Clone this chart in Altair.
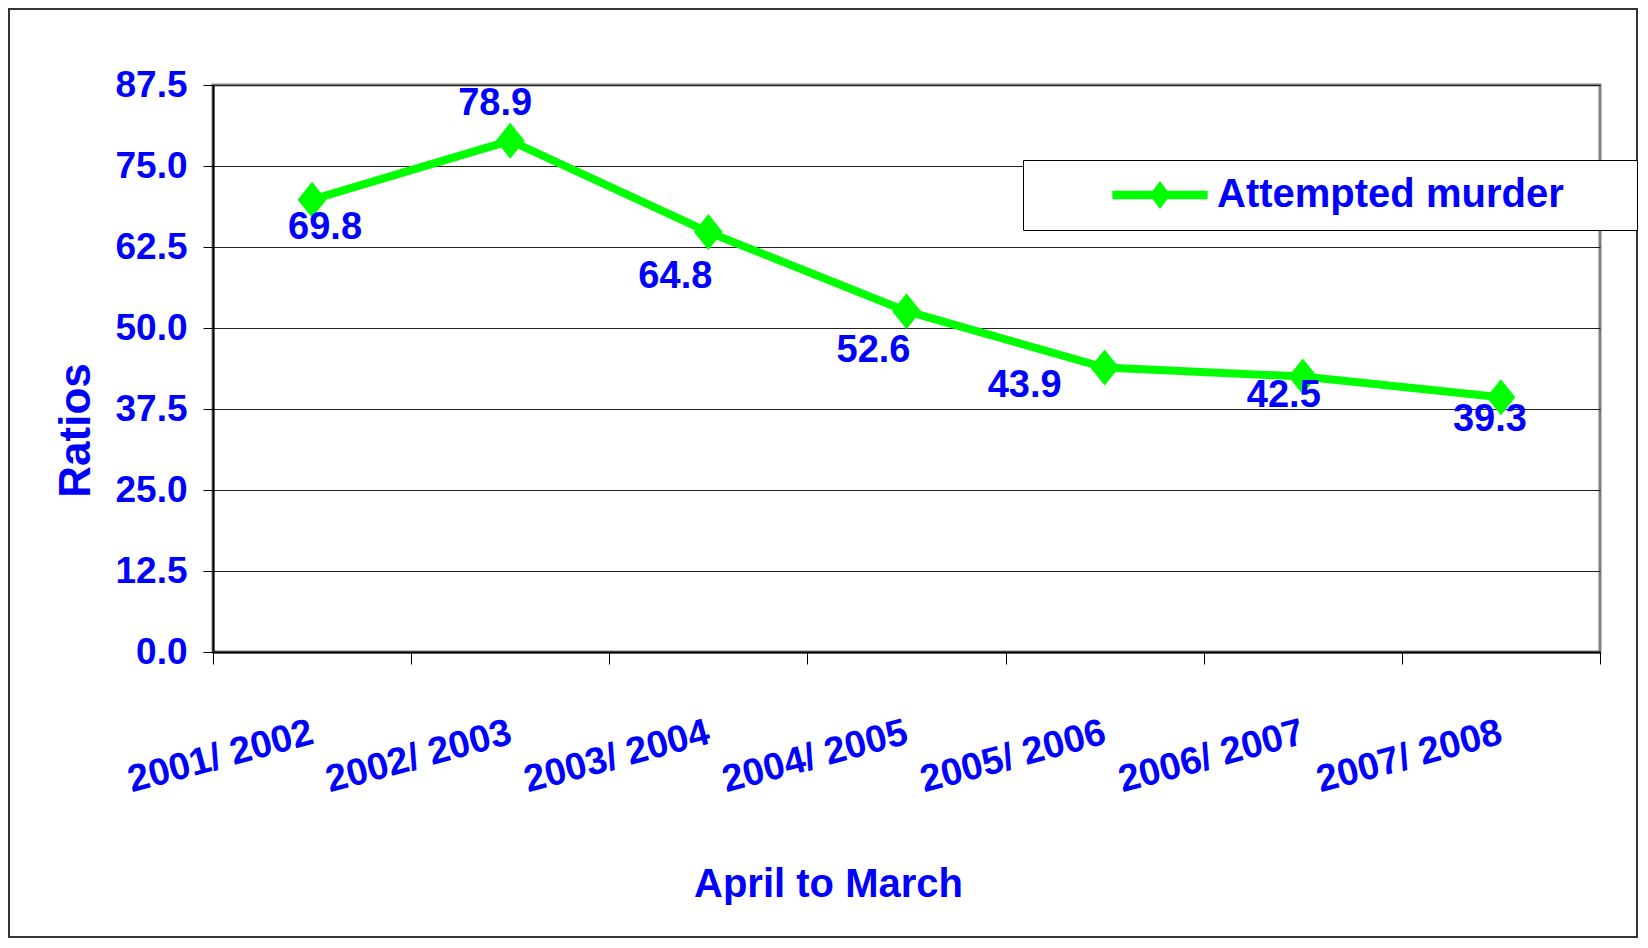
import altair as alt
import pandas as pd

years = ["2001/ 2002", "2002/ 2003", "2003/ 2004", "2004/ 2005",
         "2005/ 2006", "2006/ 2007", "2007/ 2008"]
ratios = [69.8, 78.9, 64.8, 52.6, 43.9, 42.5, 39.3]
series_name = "Attempted murder"
y_ticks = [0, 12.5, 25, 37.5, 50, 62.5, 75, 87.5]

# label placement offsets (pixels), as in the original
label_dx = [13, -15, -33, -33, -80, -19, -11]
label_dy = [28, -37, 45, 40, 18, 19, 23]

df = pd.DataFrame({"year": years, "ratio": ratios,
                   "series": [series_name] * len(years)})

FONT = "Liberation Sans, Arial, sans-serif"
BLUE = "#0000FF"
GREEN = "#00FF00"

W, H = 1387, 567

x_enc = alt.X(
    "year:N", sort=years,
    scale=alt.Scale(type="band", paddingInner=0, paddingOuter=0),
    axis=alt.Axis(
        title="April to March", tickBand="extent",
        domainColor="#000000", domainWidth=2,
        tickColor="#000000", tickSize=12, tickWidth=1,
        labelAngle=345, labelAlign="right", labelBaseline="middle",
        labelPadding=68, labelFont=FONT, labelFontSize=38,
        labelFontWeight="bold", labelColor=BLUE, labelLimit=400,
        titleFont=FONT, titleFontSize=40, titleFontWeight="bold",
        titleColor=BLUE, titleX=615, titleY=244, titleAlign="center",
        titleBaseline="alphabetic", grid=False,
    ),
)
y_enc = alt.Y(
    "ratio:Q",
    scale=alt.Scale(domain=[0, 87.5], nice=False, zero=True),
    axis=alt.Axis(
        title="Ratios", values=y_ticks, format=".1f",
        grid=True, gridColor="#222222", gridWidth=1,
        domainColor="#000000", domainWidth=2,
        tickColor="#000000", tickSize=10, tickWidth=1,
        labelPadding=16, labelFont=FONT, labelFontSize=37,
        labelFontWeight="bold", labelColor=BLUE,
        titleFont=FONT, titleFontSize=44, titleFontWeight="bold",
        titleColor=BLUE, titleAngle=270, titleX=-124, titleY=345,
        titleAlign="center", titleBaseline="alphabetic",
    ),
)

base = alt.Chart(df)

line = base.mark_line(stroke=GREEN, strokeWidth=8).encode(x=x_enc, y=y_enc)

legend_path = "M-3.4,-0.3H3.4V0.3H-3.4ZM0,-1L0.75,0L0,1L-0.75,0Z"
points = base.mark_point(
    shape="M0,-1L0.8,0L0,1L-0.8,0Z", filled=True, size=1296, opacity=1
).encode(
    x=x_enc, y=y_enc,
    color=alt.Color(
        "series:N", scale=alt.Scale(range=[GREEN]),
        legend=alt.Legend(
            title=None, orient="none", legendX=810, legendY=75,
            fillColor="#FFFFFF", strokeColor="#000000", padding=15,
            symbolType=legend_path, symbolSize=784, symbolFillColor=GREEN,
            symbolStrokeWidth=0, symbolOffset=102, labelOffset=37,
            labelFont=FONT, labelFontSize=40, labelFontWeight="bold",
            labelColor=BLUE, labelLimit=700,
            labelExpr="datum.label + '\u2800\u2800'",
        ),
    ),
)

labels = []
for i, yr in enumerate(years):
    labels.append(
        base.transform_filter(alt.datum.year == yr).mark_text(
            font=FONT, fontSize=38, fontWeight="bold", color=BLUE,
            dx=label_dx[i], dy=label_dy[i], baseline="middle", align="center",
        ).encode(x=x_enc, y=y_enc, text=alt.Text("ratio:Q", format=".1f"))
    )

frame = alt.Chart(pd.DataFrame({"f": [0]})).mark_rect(
    fillOpacity=0, stroke="#333333", strokeWidth=2
).encode(
    x=alt.value(-204), x2=alt.value(1424), y=alt.value(-76), y2=alt.value(852)
)

chart = alt.layer(frame, line, points, *labels).properties(
    width=W, height=H, padding=0, background="#FFFFFF"
).configure_view(stroke="#808080", strokeWidth=3)

chart.save("out.html", embed_options={"renderer": "svg", "actions": False})
